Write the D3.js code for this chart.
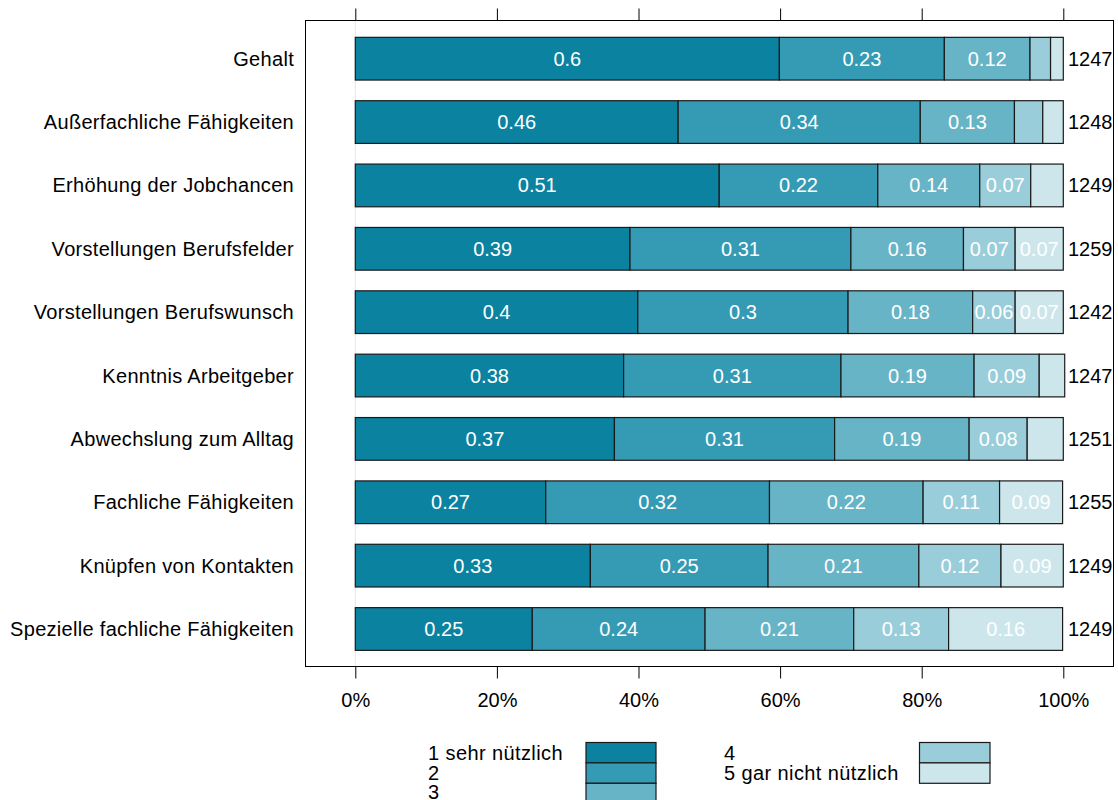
<!DOCTYPE html>
<html>
<head>
<meta charset="utf-8">
<script src="https://cdn.jsdelivr.net/npm/d3@7"></script>
<style>
  html, body { margin: 0; padding: 0; background: #fff; }
  svg { display: block; font-family: "Liberation Sans", Arial, sans-serif; }
</style>
</head>
<body>
<svg id="chart" width="1118" height="800"></svg>
<script>
// ---- data ----
const categories = [
  "Gehalt",
  "Außerfachliche Fähigkeiten",
  "Erhöhung der Jobchancen",
  "Vorstellungen Berufsfelder",
  "Vorstellungen Berufswunsch",
  "Kenntnis Arbeitgeber",
  "Abwechslung zum Alltag",
  "Fachliche Fähigkeiten",
  "Knüpfen von Kontakten",
  "Spezielle fachliche Fähigkeiten"
];
const seriesNames = ["1 sehr nützlich", "2", "3", "4", "5 gar nicht nützlich"];
const s1 = [0.599, 0.456, 0.514, 0.388, 0.399, 0.379, 0.366, 0.269, 0.332, 0.250];
const s2 = [0.233, 0.342, 0.224, 0.312, 0.297, 0.307, 0.311, 0.316, 0.251, 0.244];
const s3 = [0.121, 0.133, 0.144, 0.159, 0.176, 0.188, 0.190, 0.217, 0.213, 0.210];
const s4 = [0.029, 0.040, 0.072, 0.073, 0.060, 0.092, 0.082, 0.108, 0.116, 0.134];
const s5 = [0.018, 0.029, 0.046, 0.068, 0.068, 0.036, 0.051, 0.089, 0.088, 0.161];
const counts = [1247, 1248, 1249, 1259, 1242, 1247, 1251, 1255, 1249, 1249];
const tickValues = [0, 0.2, 0.4, 0.6, 0.8, 1.0];
const colors = ["#0a82a0", "#359bb4", "#67b4c7", "#9acdda", "#cde6ec"];

(function () {
// ---- layout ----
const svg = d3.select("#chart");
const box = { left: 305.5, right: 1113.5, top: 20.5, bottom: 666.5 };
const x = d3.scaleLinear().domain([0, 1]).range([355.3, 1063.3]);
const y = d3.scalePoint().domain(categories).range([58.7, 629]);
const step = y.step();
const barH = step * 0.674;
const FS = 20;

const series = [s1, s2, s3, s4, s5];
const rows = categories.map((c, i) => {
  let acc = 0;
  const segs = series.map((s, k) => {
    const seg = { cat: c, k, v: s[i], x0: acc, x1: acc + s[i] };
    acc += s[i];
    return seg;
  });
  return { cat: c, segs, n: counts[i] };
});

svg.append("defs").append("clipPath").attr("id", "panelclip")
  .append("rect").attr("x", 0).attr("y", 0).attr("width", box.right).attr("height", 800);

// zero reference line
svg.append("line")
  .attr("x1", x(0)).attr("x2", x(0))
  .attr("y1", box.top).attr("y2", box.bottom)
  .attr("stroke", "#e6e6e6").attr("stroke-width", 1);

// bars
const g = svg.append("g");
rows.forEach(r => {
  const cy = y(r.cat);
  g.selectAll(null).data(r.segs).enter().append("rect")
    .attr("x", d => x(d.x0))
    .attr("y", cy - barH / 2)
    .attr("width", d => x(d.x1) - x(d.x0))
    .attr("height", barH)
    .attr("fill", d => colors[d.k])
    .attr("stroke", "#1a1a1a")
    .attr("stroke-width", 1.2);
  g.selectAll(null).data(r.segs.filter(d => d.v >= 0.055)).enter().append("text")
    .attr("x", d => (x(d.x0) + x(d.x1)) / 2)
    .attr("y", cy + 7)
    .attr("text-anchor", "middle")
    .attr("font-size", FS)
    .attr("fill", "#ffffff")
    .text(d => String(+d.v.toFixed(2)));
  svg.append("text")
    .attr("clip-path", "url(#panelclip)")
    .attr("x", 1068)
    .attr("y", cy + 7)
    .attr("font-size", FS)
    .attr("fill", "#000")
    .text(r.n);
  svg.append("text")
    .attr("x", 294)
    .attr("y", cy + 7)
    .attr("text-anchor", "end")
    .attr("font-size", FS)
    .attr("letter-spacing", 0.3)
    .attr("fill", "#000")
    .text(r.cat);
});

// panel box
svg.append("rect")
  .attr("x", box.left).attr("y", box.top)
  .attr("width", box.right - box.left).attr("height", box.bottom - box.top)
  .attr("fill", "none").attr("stroke", "#000").attr("stroke-width", 1);

// axes
const fmt = d3.format(".0%");
const axTop = svg.append("g").attr("transform", `translate(0,${box.top})`)
  .call(d3.axisTop(x).tickValues(tickValues).tickSize(12).tickSizeOuter(0).tickFormat(""));
axTop.select(".domain").remove();
axTop.selectAll("line").attr("stroke", "#000");

const axBot = svg.append("g").attr("transform", `translate(0,${box.bottom})`)
  .call(d3.axisBottom(x).tickValues(tickValues).tickSize(12).tickSizeOuter(0).tickPadding(14).tickFormat(fmt));
axBot.select(".domain").remove();
axBot.selectAll("line").attr("stroke", "#000");
axBot.selectAll("text").attr("font-size", FS).attr("fill", "#000")
  .attr("font-family", "\"Liberation Sans\", Arial, sans-serif");

// legend
const legCols = [
  { items: [0, 1, 2], tx: 428, sx: 586, sw: 70 },
  { items: [3, 4], tx: 724, sx: 919.5, sw: 70.5 }
];
const swTop = 742.5, swH = 20.4;
const baselines = [760, 779.5, 799];
const leg = svg.append("g");
legCols.forEach(col => {
  leg.selectAll(null).data(col.items).enter().append("rect")
    .attr("x", col.sx)
    .attr("y", (d, i) => swTop + i * swH)
    .attr("width", col.sw)
    .attr("height", swH)
    .attr("fill", d => colors[d])
    .attr("stroke", "#1a1a1a")
    .attr("stroke-width", 1.2);
  leg.selectAll(null).data(col.items).enter().append("text")
    .attr("x", col.tx)
    .attr("y", (d, i) => baselines[i])
    .attr("font-size", FS)
    .attr("letter-spacing", 0.4)
    .attr("fill", "#000")
    .text(d => seriesNames[d]);
});
})();
</script>
</body>
</html>
